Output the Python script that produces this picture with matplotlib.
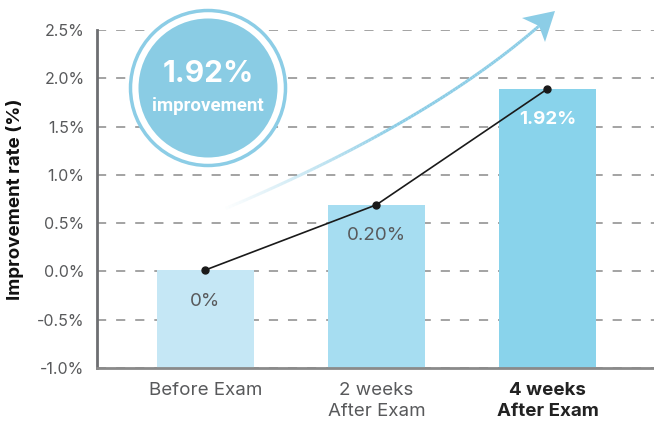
import numpy as np
import matplotlib
matplotlib.use("Agg")
import matplotlib.pyplot as plt
from matplotlib.patches import Circle, Polygon
from matplotlib.collections import LineCollection

plt.rcParams['font.family'] = ['Inter', 'DejaVu Sans']

# ---- data ----
categories = ["Before Exam", "2 weeks\nAfter Exam", "4 weeks\nAfter Exam"]
bar_tops = [0.01, 0.685, 1.885]
line_values = [0.015, 0.69, 1.89]
bar_labels = ["0%", "0.20%", "1.92%"]
ytick_values = [-1.0, -0.5, 0.0, 0.5, 1.0, 1.5, 2.0, 2.5]
ytick_labels = ["-1.0%", "-0.5%", "0.0%", "0.5%", "1.0%", "1.5%", "2.0%", "2.5%"]
baseline = -1.0

bar_colors = ["#c5e7f5", "#a6ddf1", "#89d3eb"]
gray = "#58595b"

W, H = 654, 423
fig = plt.figure(figsize=(W / 100, H / 100), dpi=100)
ax = fig.add_axes([97 / W, 1 - 368 / H, (W - 97) / W, (368 - 30) / H])

x = np.arange(len(categories))
heights = np.array(bar_tops) - baseline
ax.bar(x, heights, bottom=baseline, width=0.567, color=bar_colors, zorder=2)

ax.set_ylim(-1.0, 2.5)
ax.set_xlim(-0.634, 2.623)
ax.set_yticks(ytick_values)
ax.set_yticklabels(ytick_labels)
ax.set_xticks(x)
ax.set_xticklabels(categories, linespacing=1.3)
ax.tick_params(axis='both', length=0)
ax.tick_params(axis='y', pad=9, labelsize=11.5, labelcolor=gray)
ax.tick_params(axis='x', pad=10, labelsize=13.5, labelcolor=gray)
for i, lab in enumerate(ax.get_xticklabels()):
    if i == 2:
        lab.set_fontweight('bold')
        lab.set_color('#222222')

ax.yaxis.grid(True, color='#8a8a8a', linestyle=(0, (6, 6.5)), linewidth=1.1, zorder=0)
ax.set_axisbelow(True)
for s in ['top', 'right']:
    ax.spines[s].set_visible(False)
ax.spines['left'].set_color('#6d6e71')
ax.spines['left'].set_linewidth(2)
ax.spines['bottom'].set_color('#8a8a8a')
ax.spines['bottom'].set_linewidth(2)

ax.set_ylabel("Improvement rate (%)", fontsize=13.5, fontweight='bold', color='#111111')
ax.yaxis.set_label_coords(-0.131, 0.5)

# line with markers
ax.plot(x, line_values, color='#1a1a1a', linewidth=1.2, marker='o', markersize=5, zorder=4)

# bar value labels
for i, (xi, top, lab) in enumerate(zip(x, bar_tops, bar_labels)):
    if i == 2:
        col, wt = 'white', 'bold'
    else:
        col, wt = gray, 'normal'
    ax.annotate(lab, (xi, top), xytext=(0, -22), textcoords='offset points',
                ha='center', va='center', fontsize=13.5, color=col, fontweight=wt, zorder=5)

# ---- decorative circle badge (in inches) ----
tr = fig.dpi_scale_trans
cx, cy = 2.08, (H - 88) / 100
fig.patches.append(Circle((cx, cy), 0.775, transform=tr, facecolor='white',
                          edgecolor='#8ccde6', linewidth=2.5, zorder=5))
fig.patches.append(Circle((cx, cy), 0.695, transform=tr, facecolor='#8accE4',
                          edgecolor='none', zorder=6))
fig.text(cx, cy + 0.14, "1.92%", transform=tr, ha='center', va='center',
         fontsize=21.5, fontweight='bold', color='white', zorder=7)
fig.text(cx, cy - 0.175, "improvement", transform=tr, ha='center', va='center',
         fontsize=13.5, fontweight='bold', color='white', zorder=7,
         family=['Roboto', 'DejaVu Sans'])

# ---- decorative curved arrow (in pixels -> inches) ----
P0 = np.array([222, 210.0])
P1 = np.array([434, 121.0])
P2 = np.array([548, 18.0])
t = np.linspace(0, 1, 120)[:, None]
pts = (1 - t) ** 2 * P0 + 2 * (1 - t) * t * P1 + t ** 2 * P2
pts_in = np.column_stack([pts[:, 0] / 100, (H - pts[:, 1]) / 100])
segs = np.stack([pts_in[:-1], pts_in[1:]], axis=1)
alphas = np.clip(t[:-1, 0] / 0.45, 0, 1)
cols = np.zeros((len(segs), 4))
cols[:, :3] = matplotlib.colors.to_rgb('#8ccde6')
cols[:, 3] = alphas
lc = LineCollection(segs, colors=cols, linewidths=2.2, transform=tr, zorder=3)
fig.add_artist(lc)
head_px = np.array([[555, 11], [522, 18], [539, 26], [545, 42]], dtype=float)
head_in = np.column_stack([head_px[:, 0] / 100, (H - head_px[:, 1]) / 100])
fig.patches.append(Polygon(head_in, closed=True, transform=tr, facecolor='#8ccde6',
                           edgecolor='none', zorder=3))

fig.savefig("out.png", dpi=100)
